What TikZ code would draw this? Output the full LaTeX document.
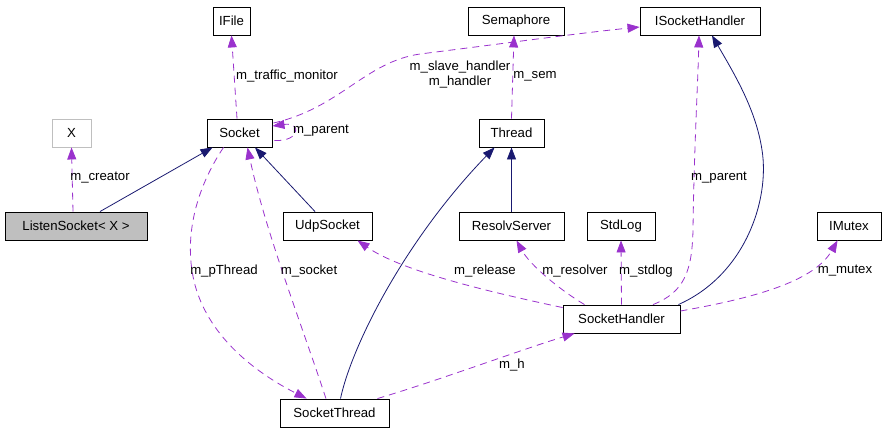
\documentclass[tikz,border=0pt]{standalone}
\usepackage{fontspec}
\setmainfont{Liberation Sans}
\usetikzlibrary{arrows.meta,calc}
\definecolor{edgepurple}{HTML}{9A32CD}
\definecolor{edgenavy}{HTML}{191970}
\definecolor{boxgray}{HTML}{BFBFBF}
\begin{document}
\begin{tikzpicture}[x=1pt,y=-1pt,
  every node/.style={font=\fontsize{13.2}{15}\selectfont},
  cls/.style={draw=black,line width=0.9pt,minimum height=28pt,inner sep=0pt,anchor=center},
  lbl/.style={inner sep=0pt,anchor=center},
  use/.style={draw=edgepurple,line width=0.8pt,dash pattern=on 7pt off 5pt,
    -{Triangle[length=12pt,width=9pt,fill=edgepurple]}},
  inh/.style={draw=edgenavy,line width=0.8pt,
    -{Triangle[length=12pt,width=9pt,fill=edgenavy]}}]
\useasboundingbox (0,0) rectangle (887,432);
% nodes
\node[cls,minimum width=37pt] (IFile) at (231.5,21) {IFile};
\node[cls,minimum width=96pt] (Semaphore) at (516,21) {Semaphore};
\node[cls,minimum width=120pt] (ISH) at (700,21) {ISocketHandler};
\node[cls,draw=boxgray,minimum width=39pt] (X) at (71.5,133) {X};
\node[cls,minimum width=65pt] (Socket) at (239.5,133) {Socket};
\node[cls,minimum width=65pt] (Thread) at (511.5,133) {Thread};
\node[cls,fill=boxgray,minimum width=142pt] (Listen) at (76,226) {ListenSocket< X >};
\node[cls,minimum width=89pt] (Udp) at (327.5,226) {UdpSocket};
\node[cls,minimum width=105pt] (Resolv) at (511.5,226) {ResolvServer};
\node[cls,minimum width=68pt] (StdLog) at (621,226) {StdLog};
\node[cls,minimum width=64pt] (IMutex) at (849,226) {IMutex};
\node[cls,minimum width=117pt] (SH) at (621.5,319) {SocketHandler};
\node[cls,minimum width=109pt] (ST) at (334.5,413) {SocketThread};
% inheritance
\draw[inh] ($(Listen.north)+(24,0)$) -- ($(Socket.south west)+(6,0)$);
\draw[inh] ($(Udp.north)+(-12.5,0)$) -- ($(Socket.south)+(15.5,0)$);
\draw[inh] (Resolv.north) -- (Thread.south);
\draw[inh] ($(ST.north)+(6,0)$) .. controls (352,345) and (405,240) .. ($(Thread.south west)+(16,0)$);
\draw[inh] ($(SH.north east)+(-2,0)$) .. controls (745,275) and (770,200) .. (762,150)
  .. controls (756,110) and (735,75) .. ($(ISH.south)+(12,0)$);
% usage
\draw[use] ($(Listen.north)+(-3,0)$) -- (X.south);
\draw[use] ($(Socket.north)+(-2.5,0)$) -- (IFile.south);
\draw[use] ($(Socket.south east)+(2,-7)$) .. controls (300,142) and (302,122) .. ($(Socket.east)+(0,-7)$);
\draw[use] ($(Socket.east)+(1,-10)$) .. controls (340,108) and (365,62) .. (420,54)
  .. controls (500,44) and (580,33) .. ($(ISH.west)+(0,6)$);
\draw[use] (Thread.north) -- ($(Semaphore.south)+(-2,0)$);
\draw[use] ($(SH.north)+(31.5,0)$) .. controls (685,292) and (692,270) .. (693,230)
  .. controls (694,150) and (698,80) .. ($(ISH.south)+(-1,0)$);
\draw[use] (SH.north) -- (StdLog.south);
\draw[use] ($(SH.north)+(-37,0)$) .. controls (560,290) and (530,265) .. ($(Resolv.south)+(5,0)$);
\draw[use] ($(SH.north west)+(0,3)$) .. controls (480,290) and (400,270) .. ($(Udp.south)+(30,0)$);
\draw[use] ($(SH.east)+(0,-8)$) .. controls (760,297) and (815,280) .. ($(IMutex.south west)+(21,0)$);
\draw[use] ($(ST.north east)+(-12,0)$) .. controls (440,380) and (520,350) .. ($(SH.south west)+(12,0)$);
\draw[use] ($(Socket.south)+(-16,0)$) .. controls (195,190) and (183,240) .. (195,285)
  .. controls (210,340) and (260,375) .. ($(ST.north west)+(27,0)$);
\draw[use] ($(ST.north)+(-8.5,0)$) .. controls (300,320) and (265,230) .. ($(Socket.south)+(8,0)$);
% labels
\node[lbl] (l1) at (100,178) {m\_creator};
\node[lbl] (l2) at (287,76) {m\_traffic\_monitor};
\node[lbl,align=center] (l3) at (460,75) {m\_slave\_handler\\m\_handler};
\node[lbl] (l4) at (535,76) {m\_sem};
\node[lbl] (l5) at (321,131) {m\_parent};
\node[lbl] (l6) at (719,178) {m\_parent};
\node[lbl] (l7) at (224,271) {m\_pThread};
\node[lbl] (l8) at (309,271) {m\_socket};
\node[lbl] (l9) at (485,271) {m\_release};
\node[lbl] (l10) at (575,271) {m\_resolver};
\node[lbl] (l11) at (646,271) {m\_stdlog};
\node[lbl] (l12) at (845,271) {m\_mutex};
\node[lbl] (l13) at (512,365) {m\_h};
\end{tikzpicture}
\end{document}
